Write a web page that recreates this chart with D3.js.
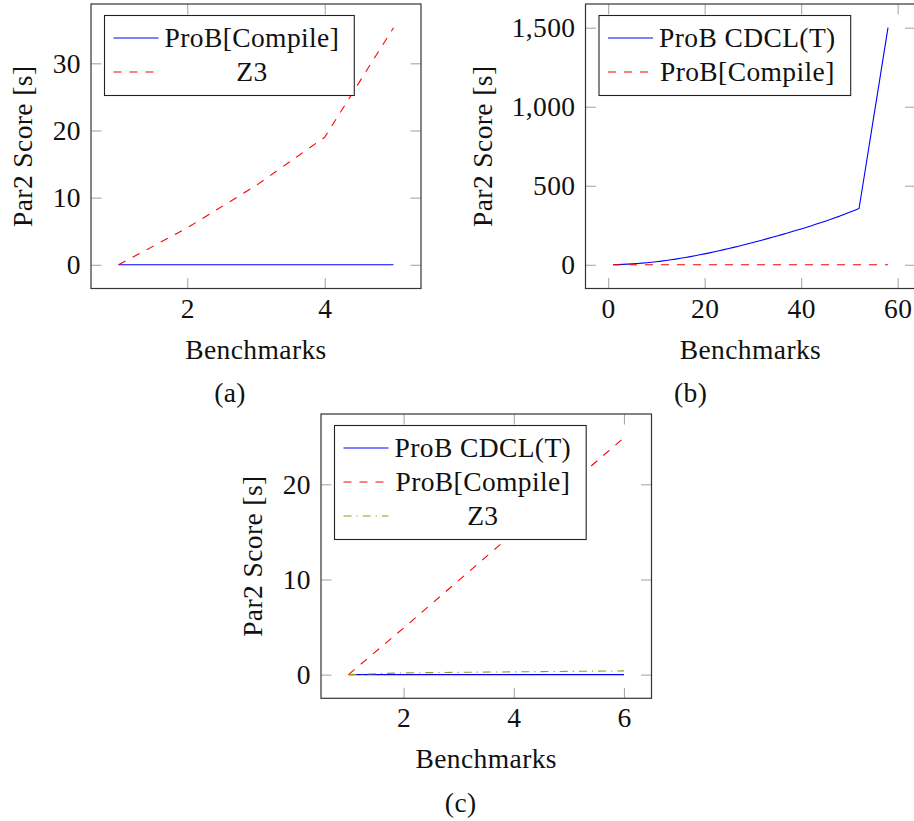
<!DOCTYPE html>
<html>
<head>
<meta charset="utf-8">
<script src="https://cdn.jsdelivr.net/npm/d3@7"></script>
<style>
  html, body { margin: 0; padding: 0; background: #fff; }
  svg { display: block; }
</style>
</head>
<body>
<svg id="chart" width="914" height="821"></svg>
<script>
// ---------------- DATA ----------------
// Panel (a)
const aBenchmarks = [1, 2, 3, 4, 5];
const aProBCompile = [0, 0, 0, 0, 0];
const aZ3 = [0, 5.5, 11.8, 19, 35.3];
const aXTicks = [2, 4];
const aYTicks = [0, 10, 20, 30];

// Panel (b)
const bBenchmarks = [1, 2, 3, 4, 5, 6, 7, 8, 9, 10, 11, 12, 13, 14, 15, 16, 17, 18, 19, 20,
  21, 22, 23, 24, 25, 26, 27, 28, 29, 30, 31, 32, 33, 34, 35, 36, 37, 38, 39, 40,
  41, 42, 43, 44, 45, 46, 47, 48, 49, 50, 51, 52, 53, 54, 55, 56, 57, 58];
const bCDCLT = [0, 1, 2.5, 4, 6, 8, 10.5, 13, 16, 19.5, 23, 27, 31.5, 36, 41, 46, 51.5, 57, 63, 69,
  75.5, 82, 89, 96, 103, 110, 117.5, 125, 133, 141, 149, 157, 165.5, 174, 182.5, 191, 200, 209, 218, 227,
  236.5, 246, 256, 266, 276, 286, 297, 308, 320, 332, 344, 356, 546, 737, 928, 1118, 1309, 1500];
const bProBCompile = [0, 0, 0, 0, 0, 0, 0, 0, 0, 0, 0, 0, 0, 0, 0, 0, 0, 0, 0, 0,
  0, 0, 0, 0, 0, 0, 0, 0, 0, 0, 0, 0, 0, 0, 0, 0, 0, 0, 0, 0,
  0, 0, 0, 0, 0, 0, 0, 0, 0, 0, 0, 0, 0, 0, 0, 0, 0, 0];
const bXTicks = [0, 20, 40, 60];
const bYTicks = [0, 500, 1000, 1500];

// Panel (c)
const cBenchmarks = [1, 2, 3, 4, 5, 6];
const cCDCLT = [0, 0, 0, 0, 0, 0];
const cProBCompile = [0, 4.9, 9.9, 14.9, 19.9, 24.9];
const cZ3 = [0, 0.18, 0.24, 0.29, 0.34, 0.39];
const cXTicks = [2, 4, 6];
const cYTicks = [0, 10, 20];

const xLabel = "Benchmarks";
const yLabel = "Par2 Score [s]";

// ---------------- STYLE ----------------
const FONT = "'Liberation Serif', 'Times New Roman', serif";
const FS = 27.5;
const LS = "0.4px";
const styles = {
  blueSolid: { color: "#0000ff", dash: null },
  redDashed: { color: "#ff0000", dash: "8,8" },
  oliveDashDot: { color: "#9c9a10", dash: "8,5,1.2,5" }
};

const svg = d3.select("#chart");

function textStyle(sel) {
  return sel.style("font-family", FONT)
    .style("font-size", FS + "px")
    .style("letter-spacing", LS)
    .attr("fill", "#111");
}

function drawPanel(cfg) {
  const { left, right, top, bottom } = cfg.box;
  const allY = cfg.series.flatMap(s => s.values);
  const allX = cfg.x;
  const xmin = d3.min(allX), xmax = d3.max(allX);
  const ymin = d3.min(allY), ymax = d3.max(allY);
  const xe = 0.1 * (xmax - xmin), ye = 0.1 * (ymax - ymin);

  const x = d3.scaleLinear().domain([xmin - xe, xmax + xe]).range([left, right]);
  const y = d3.scaleLinear().domain([ymin - ye, ymax + ye]).range([bottom, top]);

  const g = svg.append("g");
  const tickLen = 10.5;

  function styleAxis(sel, withText) {
    sel.select(".domain").remove();
    sel.selectAll(".tick line").attr("stroke", "#a8a8a8").attr("stroke-width", 1.1);
    textStyle(sel.selectAll(".tick text"));
    if (!withText) sel.selectAll(".tick text").remove();
  }

  g.append("g").attr("transform", `translate(${left},0)`)
    .call(d3.axisLeft(y).tickValues(cfg.yTicks).tickSize(-tickLen).tickPadding(10).tickFormat(cfg.yFmt))
    .call(s => styleAxis(s, true));
  g.append("g").attr("transform", `translate(${right},0)`)
    .call(d3.axisRight(y).tickValues(cfg.yTicks).tickSize(-tickLen))
    .call(s => styleAxis(s, false));
  g.append("g").attr("transform", `translate(0,${bottom})`)
    .call(d3.axisBottom(x).tickValues(cfg.xTicks).tickSize(-tickLen).tickPadding(9.5).tickFormat(d3.format("d")))
    .call(s => styleAxis(s, true));
  g.append("g").attr("transform", `translate(0,${top})`)
    .call(d3.axisTop(x).tickValues(cfg.xTicks).tickSize(-tickLen))
    .call(s => styleAxis(s, false));

  // lines
  cfg.series.forEach(s => {
    const pts = cfg.x.map((xv, i) => [xv, s.values[i]]);
    g.append("path")
      .datum(pts)
      .attr("fill", "none")
      .attr("stroke", s.style.color)
      .attr("stroke-width", 1.1)
      .attr("stroke-dasharray", s.style.dash)
      .attr("stroke-linejoin", "round")
      .attr("d", d3.line().x(d => x(d[0])).y(d => y(d[1])));
  });

  // box
  g.append("rect")
    .attr("x", left).attr("y", top)
    .attr("width", right - left).attr("height", bottom - top)
    .attr("fill", "none").attr("stroke", "#333").attr("stroke-width", 1.2);

  // axis labels
  textStyle(g.append("text")
    .attr("x", (left + right) / 2).attr("y", bottom + 70)
    .attr("text-anchor", "middle"))
    .text(xLabel);
  textStyle(g.append("text")
    .attr("transform", `translate(${left - cfg.yLabelOffset},${(top + bottom) / 2}) rotate(-90)`)
    .attr("text-anchor", "middle"))
    .text(yLabel);

  // legend
  const lg = g.append("g").attr("transform", `translate(${left + 13.5},${top + 11.5})`);
  const rowH = 34;
  const bg = lg.append("rect");
  const texts = cfg.series.map((s, i) => textStyle(lg.append("text")
    .attr("y", 22.5 + i * rowH + 9)
    .attr("text-anchor", "middle"))
    .text(s.name));
  const maxW = d3.max(texts, t => t.node().getComputedTextLength());
  const lw = 60 + maxW + 15;
  const lh = cfg.series.length * rowH + 12;
  texts.forEach(t => t.attr("x", 60 + maxW / 2));
  bg.attr("width", lw).attr("height", lh)
    .attr("fill", "#fff").attr("stroke", "#222").attr("stroke-width", 1.1);
  cfg.series.forEach((s, i) => {
    lg.append("line")
      .attr("x1", 9).attr("x2", 54)
      .attr("y1", 22.5 + i * rowH).attr("y2", 22.5 + i * rowH)
      .attr("stroke", s.style.color).attr("stroke-width", 1.1)
      .attr("stroke-dasharray", s.style.dash);
  });

  // caption
  textStyle(svg.append("text")
    .attr("x", cfg.caption.x).attr("y", cfg.caption.y)
    .attr("text-anchor", "middle"))
    .text(cfg.caption.text);
}

drawPanel({
  box: { left: 91, right: 421, top: 4, bottom: 288.5 },
  x: aBenchmarks,
  series: [
    { name: "ProB[Compile]", values: aProBCompile, style: styles.blueSolid },
    { name: "Z3", values: aZ3, style: styles.redDashed }
  ],
  xTicks: aXTicks, yTicks: aYTicks, yFmt: d3.format("d"),
  yLabelOffset: 59.3,
  caption: { text: "(a)", x: 230, y: 402 }
});

drawPanel({
  box: { left: 585.5, right: 915.5, top: 4, bottom: 288.5 },
  x: bBenchmarks,
  series: [
    { name: "ProB CDCL(T)", values: bCDCLT, style: styles.blueSolid },
    { name: "ProB[Compile]", values: bProBCompile, style: styles.redDashed }
  ],
  xTicks: bXTicks, yTicks: bYTicks, yFmt: d3.format(","),
  yLabelOffset: 94,
  caption: { text: "(b)", x: 690.6, y: 402 }
});

drawPanel({
  box: { left: 321, right: 651.5, top: 414, bottom: 698.3 },
  x: cBenchmarks,
  series: [
    { name: "ProB CDCL(T)", values: cCDCLT, style: styles.blueSolid },
    { name: "ProB[Compile]", values: cProBCompile, style: styles.redDashed },
    { name: "Z3", values: cZ3, style: styles.oliveDashDot }
  ],
  xTicks: cXTicks, yTicks: cYTicks, yFmt: d3.format("d"),
  yLabelOffset: 59.3,
  caption: { text: "(c)", x: 460.7, y: 812 }
});
</script>
</body>
</html>
